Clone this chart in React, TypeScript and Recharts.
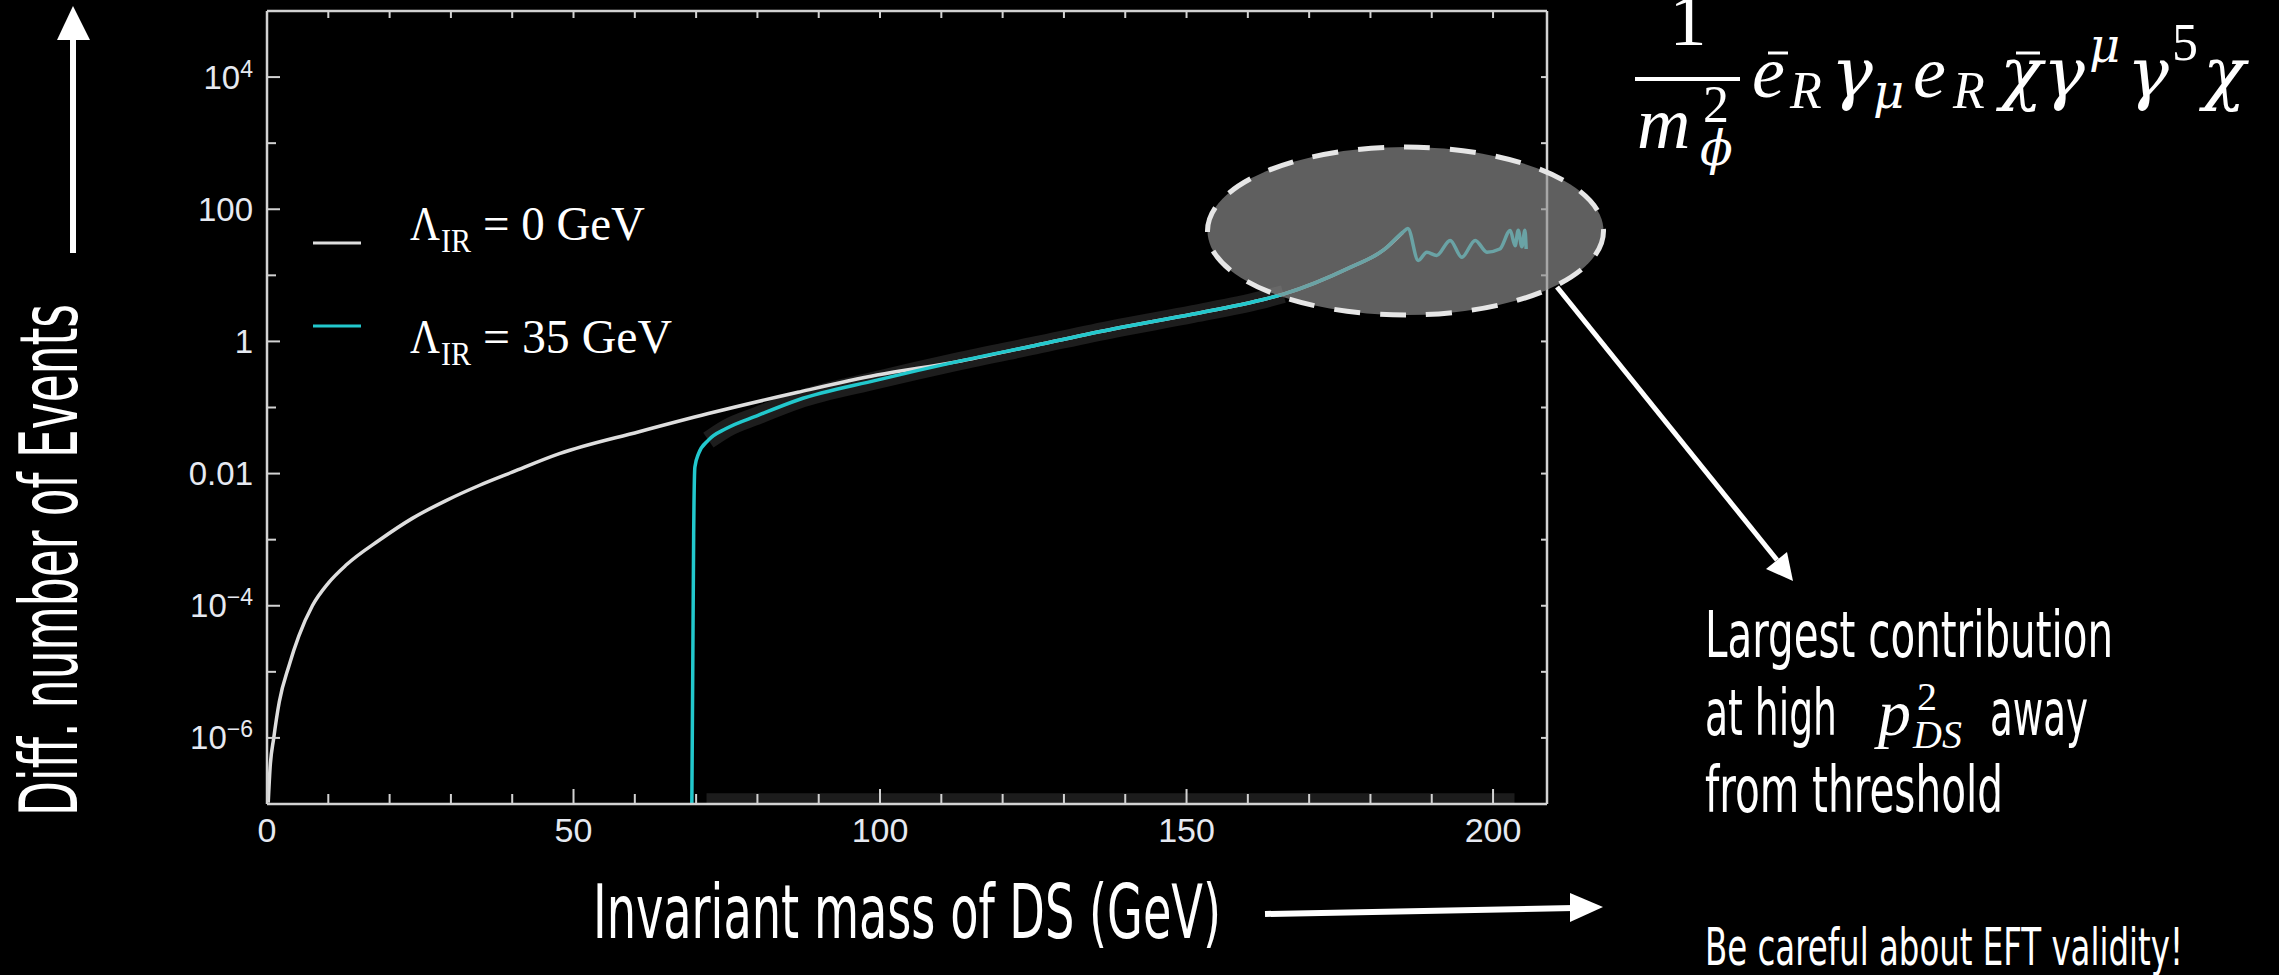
import React from 'react'
import { LineChart, Line, XAxis, YAxis, ReferenceArea } from 'recharts'

const W = 2279
const H = 975

const FRAME = '#d2d2d2'
const WHITE_LINE = '#dedede'
const CYAN_LINE = '#22c8cd'
const TICK_TEXT = '#e6e9f1'
const NARROW = '"DejaVu Sans Condensed", "Liberation Sans Narrow", "DejaVu Sans", sans-serif'
const SERIF = '"Liberation Serif", "DejaVu Serif", serif'
const GREEK = '"DejaVu Serif", "Liberation Serif", serif'

// Λ_IR = 0 GeV
const massNoCut = [0.2, 0.5, 1.1, 2.0, 3.6, 5.2, 7.4, 10.0, 13.0, 18.3, 23.7, 29.2, 34.6, 40.0, 47.7, 60.7, 72.0, 86.6, 99.5, 112.4, 125.3, 138.2, 151.1, 162.0, 165.8, 176.7, 182.1, 185.3]
const eventsNoCut = [1.05e-7, 3.5e-7, 1.0e-6, 3.5e-6, 1.25e-5, 3.5e-5, 1.0e-4, 2.2e-4, 4.2e-4, 9.8e-4, 2.1e-3, 3.9e-3, 6.6e-3, 1.05e-2, 2.0e-2, 4.3e-2, 8.1e-2, 0.17, 0.31, 0.49, 0.87, 1.55, 2.6, 4.2, 5.2, 13.2, 24, 45]

// Λ_IR = 35 GeV
const massCut = [69.3, 69.45, 69.6, 69.8, 70.4, 72.0, 74.9, 80.1, 86.6, 99.5, 112.4, 125.3, 138.2, 151.1, 162.0, 165.8, 176.7, 182.1, 185.3, 186.1, 187.8, 189.2, 190.8, 193.0, 194.9, 197.1, 199.0, 201.1, 202.8, 203.6, 204.1, 204.7, 205.2, 205.4]
const eventsCut = [1.0e-7, 1.0e-5, 1.2e-3, 1.26e-2, 2.0e-2, 3.2e-2, 4.8e-2, 7.6e-2, 0.13, 0.26, 0.49, 0.87, 1.55, 2.6, 4.2, 5.2, 13.2, 24, 45, 51, 16.8, 22.4, 20, 33.8, 18.8, 33.8, 22.4, 25, 47.8, 28, 48, 27, 48, 25]

const xTicks = [0, 10, 20, 30, 40, 50, 60, 70, 80, 90, 100, 110, 120, 130, 140, 150, 160, 170, 180, 190, 200]
const xLabelTicks = [0, 50, 100, 150, 200]
const yTicks = [1e-6, 1e-5, 1e-4, 1e-3, 0.01, 0.1, 1, 10, 100, 1000, 1e4]
const yLabelTicks = [1e-6, 1e-4, 0.01, 1, 100, 1e4]
const yLabels = ['10^−6', '10^−4', '0.01', '1', '100', '10^4']

const noCutData = massNoCut.map((x, i) => ({ x, y: eventsNoCut[i] }))
const cutData = massCut.map((x, i) => ({ x, y: eventsCut[i] }))
const hazeData = cutData.filter((d) => d.x >= 72 && d.x <= 166)

const BottomTick = (props: any) => {
  const { x, y, payload } = props
  const major = xLabelTicks.includes(payload.value)
  return (
    <g>
      <line x1={x} x2={x} y1={y} y2={y - (major ? 15 : 10)} stroke={FRAME} strokeWidth={2} />
      {major && (
        <text x={x} y={y + 38} textAnchor="middle" fontSize={34} fill={TICK_TEXT} fontFamily="'Liberation Sans', Arial, sans-serif">
          {payload.value}
        </text>
      )}
    </g>
  )
}

const TopTick = (props: any) => {
  const { x, y } = props
  return <line x1={x} x2={x} y1={y} y2={y + 7} stroke={FRAME} strokeWidth={2} />
}

const LeftTick = (props: any) => {
  const { x, y, payload } = props
  const idx = yLabelTicks.indexOf(payload.value)
  const major = idx >= 0
  let label: React.ReactNode = null
  if (major) {
    const [base, exp] = yLabels[idx].split('^')
    label = (
      <text x={x - 14} y={y + 11.5} textAnchor="end" fontSize={33} fill={TICK_TEXT} fontFamily="'Liberation Sans', Arial, sans-serif">
        {base}
        {exp && (
          <tspan dy={-12} fontSize={23}>
            {exp}
          </tspan>
        )}
      </text>
    )
  }
  return (
    <g>
      <line x1={x} x2={x + (major ? 13 : 9)} y1={y} y2={y} stroke={FRAME} strokeWidth={2} />
      {label}
    </g>
  )
}

const RightTick = (props: any) => {
  const { x, y } = props
  return <line x1={x} x2={x - 6} y1={y} y2={y} stroke={FRAME} strokeWidth={2} />
}

// pieces of the operator 1/m_φ² ē_R γ_μ e_R χ̄ γ^μ γ^5 χ
const formulaBits = [
  { t: 'e', x: 1752, y: 97, s: 74, f: SERIF, it: true },
  { t: 'R', x: 1790, y: 108, s: 52, f: SERIF, it: true },
  { t: 'γ', x: 1831, y: 97, s: 70, f: GREEK, it: true },
  { t: 'μ', x: 1873, y: 108, s: 48, f: GREEK, it: true },
  { t: 'e', x: 1913, y: 97, s: 74, f: SERIF, it: true },
  { t: 'R', x: 1953, y: 108, s: 52, f: SERIF, it: true },
  { t: 'χ', x: 2000, y: 97, s: 70, f: GREEK, it: true },
  { t: 'γ', x: 2043, y: 97, s: 70, f: GREEK, it: true },
  { t: 'μ', x: 2089, y: 62, s: 48, f: GREEK, it: true },
  { t: 'γ', x: 2127, y: 97, s: 70, f: GREEK, it: true },
  { t: '5', x: 2172, y: 60, s: 52, f: SERIF, it: false },
  { t: 'χ', x: 2203, y: 97, s: 70, f: GREEK, it: true },
  { t: 'm', x: 1637, y: 148, s: 74, f: SERIF, it: true },
  { t: '2', x: 1703, y: 122, s: 52, f: SERIF, it: false },
  { t: 'ϕ', x: 1700, y: 165, s: 48, f: GREEK, it: true },
]

function Annotations() {
  const white = '#ffffff'
  return (
    <svg width={W} height={H} style={{ position: 'absolute', left: 0, top: 0, pointerEvents: 'none' }}>
      {/* highlighted high-mass region */}
      <ellipse cx={1405.5} cy={231} rx={198} ry={84} fill="#909090" fillOpacity={0.66} stroke="#e6e6e6" strokeWidth={5} strokeDasharray="26 20" />
      <line x1={1557} y1={287} x2={1777} y2={560} stroke={white} strokeWidth={5} />
      <polygon points="1766,569 1787,552 1793,581" fill={white} />

      {/* y axis title and arrow */}
      <text transform="translate(77,816) rotate(-90)" fontSize={81} fill={white} fontFamily={NARROW} textLength={512} lengthAdjust="spacingAndGlyphs">
        Diff. number of Events
      </text>
      <line x1={73} y1={253} x2={73} y2={36} stroke={white} strokeWidth={6} />
      <polygon points="57,40 90,40 73,6" fill={white} />

      {/* x axis title and arrow */}
      <text x={593} y={938} fontSize={75} fill={white} fontFamily={NARROW} textLength={628} lengthAdjust="spacingAndGlyphs">
        Invariant mass of DS (GeV)
      </text>
      <line x1={1265} y1={914} x2={1574} y2={908} stroke={white} strokeWidth={6} />
      <polygon points="1570,893 1603,907 1570,922" fill={white} />

      {/* legend */}
      <line x1={313} x2={361} y1={243} y2={243} stroke={WHITE_LINE} strokeWidth={3} />
      <line x1={313} x2={361} y1={326} y2={326} stroke={CYAN_LINE} strokeWidth={3} />
      <g fill={white} fontFamily={SERIF}>
        <text x={410} y={240} fontSize={48} textLength={30} lengthAdjust="spacingAndGlyphs">Λ</text>
        <text x={441} y={252} fontSize={34} textLength={30} lengthAdjust="spacingAndGlyphs">IR</text>
        <text x={483} y={240} fontSize={48} textLength={162} lengthAdjust="spacingAndGlyphs">= 0 GeV</text>
        <text x={410} y={353} fontSize={48} textLength={30} lengthAdjust="spacingAndGlyphs">Λ</text>
        <text x={441} y={365} fontSize={34} textLength={30} lengthAdjust="spacingAndGlyphs">IR</text>
        <text x={483} y={353} fontSize={48} textLength={189} lengthAdjust="spacingAndGlyphs">= 35 GeV</text>
      </g>

      {/* operator */}
      <g fill={white}>
        <text x={1688} y={45} fontSize={74} textAnchor="middle" fontFamily={SERIF}>1</text>
        <line x1={1635} x2={1740} y1={79} y2={79} stroke={white} strokeWidth={4} />
        {formulaBits.map((b, i) => (
          <text key={i} x={b.x} y={b.y} fontSize={b.s} fontFamily={b.f} fontStyle={b.it ? 'italic' : 'normal'}>
            {b.t}
          </text>
        ))}
        <line x1={1768} x2={1788} y1={53} y2={53} stroke={white} strokeWidth={3} />
        <line x1={2016} x2={2040} y1={53} y2={53} stroke={white} strokeWidth={3} />
      </g>

      {/* side notes */}
      <g fill={white} fontFamily={NARROW}>
        <text x={1705} y={657} fontSize={64} textLength={408} lengthAdjust="spacingAndGlyphs">Largest contribution</text>
        <text x={1705} y={735} fontSize={64} textLength={132} lengthAdjust="spacingAndGlyphs">at high</text>
        <text x={1990} y={735} fontSize={64} textLength={98} lengthAdjust="spacingAndGlyphs">away</text>
        <text x={1705} y={812} fontSize={64} textLength={298} lengthAdjust="spacingAndGlyphs">from threshold</text>
        <text x={1705} y={965} fontSize={51} textLength={478} lengthAdjust="spacingAndGlyphs">Be careful about EFT validity!</text>
      </g>
      <g fill={white} fontFamily={SERIF} fontStyle="italic">
        <text x={1878} y={735} fontSize={66}>p</text>
        <text x={1917} y={710} fontSize={40} fontStyle="normal">2</text>
        <text x={1913} y={748} fontSize={40}>DS</text>
      </g>
    </svg>
  )
}

export default function App() {
  return (
    <div style={{ position: 'absolute', left: 0, top: 0, width: W, height: H, background: '#000', overflow: 'hidden' }}>
      <LineChart width={W} height={H} margin={{ top: 10, right: 731, bottom: 111, left: 167 }}>
        <XAxis
          xAxisId="bottom"
          type="number"
          dataKey="x"
          domain={[0, 208.8]}
          ticks={xTicks}
          interval={0}
          tickSize={0}
          tickMargin={0}
          height={60}
          allowDataOverflow
          axisLine={{ stroke: FRAME, strokeWidth: 2.5 }}
          tickLine={false}
          tick={<BottomTick />}
        />
        <XAxis
          xAxisId="top"
          orientation="top"
          type="number"
          dataKey="x"
          domain={[0, 208.8]}
          ticks={xTicks.slice(1)}
          interval={0}
          tickSize={0}
          tickMargin={0}
          height={1}
          allowDataOverflow
          axisLine={{ stroke: FRAME, strokeWidth: 2.5 }}
          tickLine={false}
          tick={<TopTick />}
        />
        <YAxis
          yAxisId="left"
          type="number"
          scale="log"
          domain={[1e-7, 1e5]}
          ticks={yTicks}
          interval={0}
          tickSize={0}
          tickMargin={0}
          width={100}
          allowDataOverflow
          axisLine={{ stroke: FRAME, strokeWidth: 2.5 }}
          tickLine={false}
          tick={<LeftTick />}
        />
        <YAxis
          yAxisId="right"
          orientation="right"
          type="number"
          scale="log"
          domain={[1e-7, 1e5]}
          ticks={yTicks}
          interval={0}
          tickSize={0}
          tickMargin={0}
          width={1}
          allowDataOverflow
          axisLine={{ stroke: FRAME, strokeWidth: 2.5 }}
          tickLine={false}
          tick={<RightTick />}
        />
        <ReferenceArea xAxisId="bottom" yAxisId="left" x1={71.7} x2={203.5} y1={1e-7} y2={1.45e-7} fill="#1c1c1c" fillOpacity={1} ifOverflow="hidden" />
        <Line xAxisId="bottom" yAxisId="left" data={hazeData} dataKey="y" type="monotone" stroke="#1d1d1d" strokeWidth={18} dot={false} isAnimationActive={false} />
        <Line xAxisId="bottom" yAxisId="left" data={noCutData} dataKey="y" type="monotone" stroke={WHITE_LINE} strokeWidth={3.5} dot={false} isAnimationActive={false} />
        <Line xAxisId="bottom" yAxisId="left" data={cutData} dataKey="y" type="monotone" stroke={CYAN_LINE} strokeWidth={3.5} dot={false} isAnimationActive={false} />
      </LineChart>
      <Annotations />
    </div>
  )
}
